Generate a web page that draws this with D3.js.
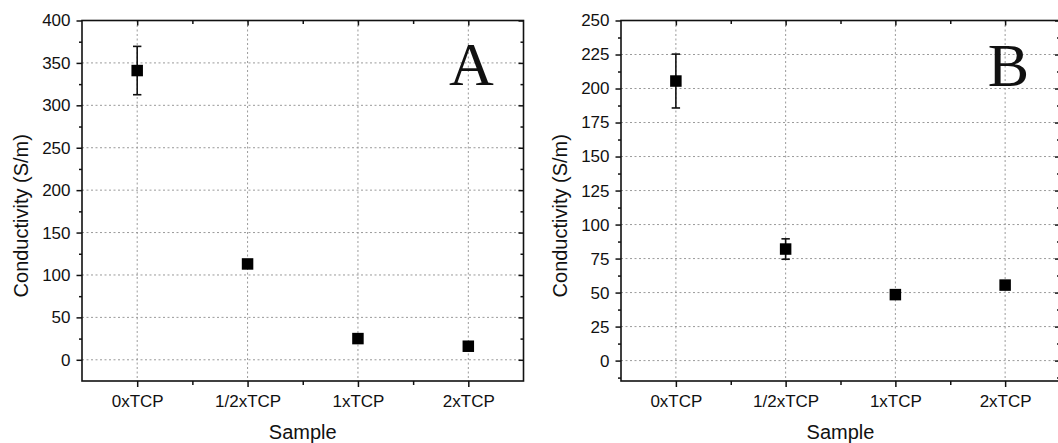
<!DOCTYPE html>
<html>
<head>
<meta charset="utf-8">
<script src="https://cdn.jsdelivr.net/npm/d3@7"></script>
<style>
  html, body { margin: 0; padding: 0; background: #fff; }
  svg { display: block; }
  text { font-family: "Liberation Sans", Arial, sans-serif; fill: #111; }
</style>
</head>
<body>
<svg id="chart" width="1058" height="443"></svg>
<script>
// ---------- data ----------
const categories = ["0xTCP", "1/2xTCP", "1xTCP", "2xTCP"];
const conductivityA = [341, 113, 25, 16];
const errorA = [28.5, 3, 3, 2];
const conductivityB = [205.5, 82, 48.5, 55.5];
const errorB = [19.8, 7.5, 2, 2];
const yTicksA = [0, 50, 100, 150, 200, 250, 300, 350, 400];
const yTicksB = [0, 25, 50, 75, 100, 125, 150, 175, 200, 225, 250];
const panelLabels = ["A", "B"];
const xTitle = "Sample";
const yTitle = "Conductivity (S/m)";

const svg = d3.select("#chart");
svg.append("rect").attr("width", 1058).attr("height", 443).attr("fill", "#fff");

function drawPanel(cfg) {
  const { left, right, top, bottom, values, errors, yDomain, yTicks, minorStep, label, labelX, labelY, titleX } = cfg;
  const g = svg.append("g");
  const x = d3.scaleLinear().domain([0.5, categories.length + 0.5]).range([left, right]);
  const y = d3.scaleLinear().domain(yDomain).range([bottom, top]);
  const xIdx = categories.map((c, i) => i + 1);
  const xMinor = d3.range(1.5, categories.length, 1);
  const yMinor = [];
  for (let v = yTicks[0] - minorStep; v < yDomain[1]; v += 2 * minorStep) if (v > yDomain[0]) yMinor.push(v);

  // grid
  const grid = g.append("g").attr("stroke", "#9a9a9a").attr("stroke-width", 1).attr("stroke-dasharray", "2,2.5");
  grid.selectAll("line.gy").data(yTicks.filter(v => v < yDomain[1])).join("line")
    .attr("x1", left).attr("x2", right).attr("y1", d => y(d)).attr("y2", d => y(d));
  grid.selectAll("line.gx").data(xIdx).join("line").attr("class", "gx")
    .attr("x1", d => x(d)).attr("x2", d => x(d)).attr("y1", top).attr("y2", bottom);

  const styleAxis = sel => {
    sel.select(".domain").remove();
    sel.selectAll(".tick line").attr("stroke", "#111").attr("stroke-width", 1.5);
    sel.selectAll("text").style("font-size", "17px").attr("fill", "#111");
  };

  // left axis major + minor
  g.append("g").attr("transform", `translate(${left},0)`)
    .call(d3.axisLeft(y).tickValues(yTicks).tickSize(5.5).tickPadding(6).tickSizeOuter(0))
    .call(styleAxis);
  g.append("g").attr("transform", `translate(${left},0)`)
    .call(d3.axisLeft(y).tickValues(yMinor).tickSize(3).tickFormat("").tickSizeOuter(0))
    .call(styleAxis);
  // right axis (inward)
  g.append("g").attr("transform", `translate(${right},0)`)
    .call(d3.axisLeft(y).tickValues(yTicks).tickSize(5).tickFormat("").tickSizeOuter(0))
    .call(styleAxis);
  g.append("g").attr("transform", `translate(${right},0)`)
    .call(d3.axisLeft(y).tickValues(yMinor).tickSize(3).tickFormat("").tickSizeOuter(0))
    .call(styleAxis);
  // bottom axis
  g.append("g").attr("transform", `translate(0,${bottom})`)
    .call(d3.axisBottom(x).tickValues(xIdx).tickSize(6).tickPadding(8).tickFormat(d => categories[d - 1]).tickSizeOuter(0))
    .call(styleAxis);
  g.append("g").attr("transform", `translate(0,${bottom})`)
    .call(d3.axisBottom(x).tickValues(xMinor).tickSize(4).tickFormat("").tickSizeOuter(0))
    .call(styleAxis);
  // top axis (inward)
  g.append("g").attr("transform", `translate(0,${top})`)
    .call(d3.axisBottom(x).tickValues(xIdx).tickSize(5).tickFormat("").tickSizeOuter(0))
    .call(styleAxis);
  g.append("g").attr("transform", `translate(0,${top})`)
    .call(d3.axisBottom(x).tickValues(xMinor).tickSize(3.5).tickFormat("").tickSizeOuter(0))
    .call(styleAxis);

  // frame
  g.append("rect").attr("x", left).attr("y", top).attr("width", right - left).attr("height", bottom - top)
    .attr("fill", "none").attr("stroke", "#111").attr("stroke-width", 1.6);

  // error bars
  const eb = g.append("g").attr("stroke", "#111").attr("stroke-width", 1.6);
  values.forEach((v, i) => {
    const cx = x(i + 1), e = errors[i];
    eb.append("line").attr("x1", cx).attr("x2", cx).attr("y1", y(v - e)).attr("y2", y(v + e));
    eb.append("line").attr("x1", cx - 4.2).attr("x2", cx + 4.2).attr("y1", y(v + e)).attr("y2", y(v + e));
    eb.append("line").attr("x1", cx - 4.2).attr("x2", cx + 4.2).attr("y1", y(v - e)).attr("y2", y(v - e));
  });
  // markers
  const ms = 11.5;
  g.selectAll("rect.pt").data(values).join("rect").attr("class", "pt")
    .attr("x", (d, i) => x(i + 1) - ms / 2).attr("y", d => y(d) - ms / 2)
    .attr("width", ms).attr("height", ms).attr("fill", "#000");

  // panel label
  g.append("text").attr("x", labelX).attr("y", labelY).attr("text-anchor", "middle")
    .style("font-family", "'Liberation Serif', 'Times New Roman', serif").style("font-size", "62px")
    .text(label);

  // titles
  g.append("text").attr("x", (left + Math.min(right, 1058 + 2)) / 2).attr("y", 439).attr("text-anchor", "middle")
    .style("font-size", "20px").text(xTitle);
  g.append("text").attr("transform", `translate(${titleX},${(top + bottom) / 2 + 15}) rotate(-90)`)
    .attr("text-anchor", "middle").style("font-size", "20px").text(yTitle);
}

drawPanel({ left: 82, right: 523.5, top: 20.5, bottom: 381, values: conductivityA, errors: errorA,
  yDomain: [-25, 400], yTicks: yTicksA, minorStep: 25, label: panelLabels[0], labelX: 471.5, labelY: 85, titleX: 28 });
drawPanel({ left: 621, right: 1060, top: 20.5, bottom: 381, values: conductivityB, errors: errorB,
  yDomain: [-15, 250], yTicks: yTicksB, minorStep: 12.5, label: panelLabels[1], labelX: 1008.5, labelY: 86, titleX: 567 });
</script>
</body>
</html>
